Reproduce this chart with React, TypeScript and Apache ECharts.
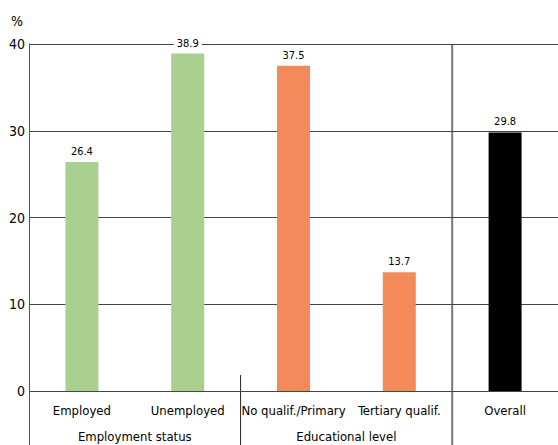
import React, { useEffect, useRef } from "react";
import * as echarts from "echarts";

const categories = ["Employed", "Unemployed", "No qualif./Primary", "Tertiary qualif.", "Overall"];
const values = [26.4, 38.9, 37.5, 13.7, 29.8];
const barColors = ["#a9d08e", "#a9d08e", "#f4895a", "#f4895a", "#000000"];
const groups = ["Employment status", "Educational level"];
const yTicks = [0, 10, 20, 30, 40];

const FONT = "'Liberation Sans Narrow', 'DejaVu Sans Condensed', 'Roboto Condensed', sans-serif";

export default function App() {
  const ref = useRef<HTMLDivElement>(null);
  useEffect(() => {
    if (!ref.current) return;
    const chart = echarts.init(ref.current, null, { renderer: "svg" });
    const W = 558, H = 445;
    const left = 29, top = 44, bottom = 54;
    const plotW = W - left;
    const band = plotW / categories.length;
    const axisY = H - bottom;
    chart.setOption({
      animation: false,
      grid: { left, right: 0, top, bottom },
      xAxis: {
        type: "category",
        data: categories,
        axisLine: { show: false },
        axisTick: { show: false },
        axisLabel: { color: "#000", fontFamily: FONT, fontSize: 13, margin: 13, interval: 0 },
      },
      yAxis: {
        type: "value",
        min: yTicks[0],
        max: yTicks[yTicks.length - 1],
        interval: 10,
        axisLine: { show: true, lineStyle: { color: "#555", width: 1 } },
        axisTick: { show: false },
        axisLabel: { color: "#000", fontFamily: FONT, fontSize: 14, margin: 4 },
        splitLine: { show: true, lineStyle: { color: "#444", width: 1 } },
      },
      series: [
        {
          type: "bar",
          data: values.map((v, i) => ({ value: v, itemStyle: { color: barColors[i] } })),
          barWidth: 33,
          label: {
            show: true,
            position: "top",
            distance: 5,
            color: "#000",
            fontFamily: FONT,
            fontSize: 11,
            backgroundColor: "#fff",
            padding: [0, 3],
            formatter: (p: any) => p.value.toFixed(1),
          },
        },
      ],
      graphic: [
        { type: "text", left: 11, top: 14, style: { text: "%", fontFamily: FONT, fontSize: 14, fill: "#000" } },
        { type: "line", shape: { x1: left + 0.5, y1: axisY, x2: left + 0.5, y2: H }, style: { stroke: "#555", lineWidth: 1 } },
        { type: "line", shape: { x1: left + 2 * band, y1: 375, x2: left + 2 * band, y2: H }, style: { stroke: "#222", lineWidth: 1 } },
        { type: "line", shape: { x1: left + 4 * band, y1: top, x2: left + 4 * band, y2: H }, style: { stroke: "#777", lineWidth: 2 } },
        { type: "line", shape: { x1: left, y1: axisY + 0.5, x2: W, y2: axisY + 0.5 }, style: { stroke: "#444", lineWidth: 1 } },
        {
          type: "text",
          x: left + band,
          y: 436,
          style: { text: groups[0], fontFamily: FONT, fontSize: 13, fill: "#000", align: "center", verticalAlign: "middle" },
        },
        {
          type: "text",
          x: left + 3 * band,
          y: 436,
          style: { text: groups[1], fontFamily: FONT, fontSize: 13, fill: "#000", align: "center", verticalAlign: "middle" },
        },
      ],
    });
    return () => chart.dispose();
  }, []);
  return <div ref={ref} style={{ position: "absolute", left: 0, top: 0, width: 558, height: 445 }} />;
}
